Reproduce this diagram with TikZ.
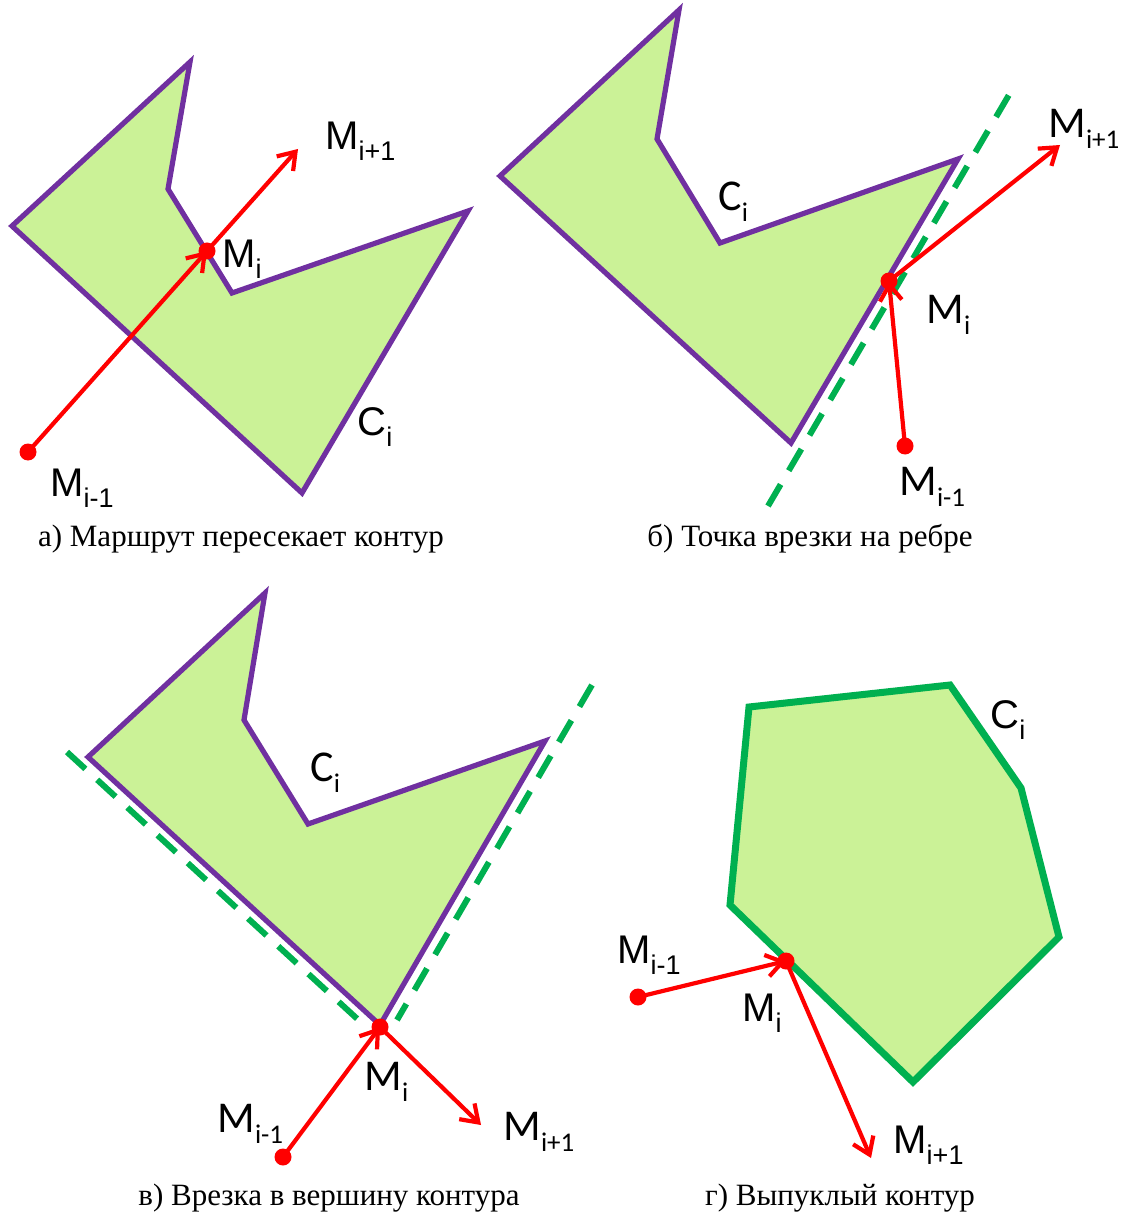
\documentclass[tikz,border=0pt]{standalone}
\usepackage{fontspec}
\newfontfamily\arialf{Liberation Sans}
\newfontfamily\calf{Carlito}
\newfontfamily\capf{Liberation Serif}
\usetikzlibrary{arrows.meta}
\definecolor{contour}{HTML}{7030A0}
\definecolor{fillgreen}{HTML}{CBF297}
\definecolor{tangent}{HTML}{00B050}
\definecolor{route}{HTML}{FF0000}
\newcommand{\idx}[1]{\raisebox{-5.5pt}{\fontsize{13.5}{14}\selectfont #1}}

\begin{document}
\begin{tikzpicture}[x=0.5pt, y=-0.5pt, every node/.style={inner sep=0pt}]
  \tikzset{poly/.style={draw=contour, fill=fillgreen, line width=2.6pt},
           tang/.style={draw=tangent, line width=3pt, dash pattern=on 12.5pt off 8pt},
           rt/.style={draw=route, line width=2.1pt, -{Straight Barb[length=8pt, width=11pt]}},
           pt/.style={circle, fill=route, minimum size=8.5pt},
           lbl/.style={anchor=base west, font=\calf\fontsize{22}{22}\selectfont},
           lbla/.style={anchor=base west, font=\arialf\fontsize{20}{20}\selectfont},
           capt/.style={anchor=base, font=\capf\fontsize{15.5}{18}\selectfont}}
  \useasboundingbox (0,0) rectangle (1132,1213);

  % a) route crosses the contour
  \coordinate (a1) at (12,226);  \coordinate (a2) at (190,62);
  \coordinate (a3) at (168,189); \coordinate (a4) at (232,293);
  \coordinate (a5) at (468,211); \coordinate (a6) at (302,493);
  \draw[poly] (a1) -- (a2) -- (a3) -- (a4) -- (a5) -- (a6) -- cycle;
  \coordinate (aPrev) at (28,452); \coordinate (aCur) at (207,251);
  \coordinate (aNext) at (298,149);
  \draw[rt] (aPrev) -- (aCur);
  \draw[rt] (aCur) -- (aNext);
  \node[pt] (aPrevDot) at (aPrev) {};
  \node[pt] (aCurDot) at (aCur) {};
  \node[lbla] (aLNext) at (325,150) {M\idx{i+1}};
  \node[lbla] (aLCur) at (222,268) {M\idx{i}};
  \node[lbla] (aLPrev) at (50,496) {M\idx{i-1}};
  \node[lbla] (aLC) at (357,436) {C\idx{i}};
  \node[capt] (aCap) at (241,546) {а) Маршрут пересекает контур};

  % b) entry point on an edge
  \coordinate (b1) at (500,176); \coordinate (b2) at (679,10);
  \coordinate (b3) at (657,139); \coordinate (b4) at (720,243);
  \coordinate (b5) at (958,159); \coordinate (b6) at (791,443);
  \draw[poly] (b1) -- (b2) -- (b3) -- (b4) -- (b5) -- (b6) -- cycle;
  \coordinate (bT1) at (768,506); \coordinate (bT2) at (1013,88);
  \draw[tang] (bT1) -- (bT2);
  \coordinate (bPrev) at (905,446); \coordinate (bCur) at (889,281);
  \coordinate (bNext) at (1060,145);
  \draw[rt] (bPrev) -- (bCur);
  \draw[rt] (bCur) -- (bNext);
  \node[pt] (bPrevDot) at (bPrev) {};
  \node[pt] (bCurDot) at (bCur) {};
  \node[lbl] (bLNext) at (1048,138) {M\idx{i+1}};
  \node[lbl] (bLCur) at (926,324) {M\idx{i}};
  \node[lbl] (bLPrev) at (899,495) {M\idx{i-1}};
  \node[lbl] (bLC) at (718,211) {C\idx{i}};
  \node[capt] (bCap) at (810,546) {б) Точка врезки на ребре};

  % c) entry at a vertex
  \coordinate (c1) at (88,757);   \coordinate (c2) at (265,593);
  \coordinate (c3) at (244,720);  \coordinate (c4) at (308,824);
  \coordinate (c5) at (545,741);  \coordinate (c6) at (380,1025);
  \draw[poly] (c1) -- (c2) -- (c3) -- (c4) -- (c5) -- (c6) -- cycle;
  \coordinate (cT1) at (67,752);  \coordinate (cT2) at (365,1026);
  \coordinate (cT3) at (592,685); \coordinate (cT4) at (397,1020);
  \draw[tang] (cT1) -- (cT2);
  \draw[tang] (cT3) -- (cT4);
  \coordinate (cPrev) at (283,1157); \coordinate (cCur) at (380,1027);
  \coordinate (cNext) at (481,1125);
  \draw[rt] (cPrev) -- (cCur);
  \draw[rt] (cCur) -- (cNext);
  \node[pt] (cPrevDot) at (cPrev) {};
  \node[pt] (cCurDot) at (cCur) {};
  \node[lbl] (cLNext) at (503,1140) {M\idx{i+1}};
  \node[lbl] (cLCur) at (364,1090) {M\idx{i}};
  \node[lbl] (cLPrev) at (217,1132) {M\idx{i-1}};
  \node[lbl] (cLC) at (310,781) {C\idx{i}};
  \node[capt] (cCap) at (329,1205) {в) Врезка в вершину контура};

  % d) convex contour
  \coordinate (d1) at (749,707);  \coordinate (d2) at (950,685);
  \coordinate (d3) at (1021,788); \coordinate (d4) at (1059,937);
  \coordinate (d5) at (913,1082); \coordinate (d6) at (730,905);
  \draw[poly, draw=tangent, line width=3.5pt] (d1) -- (d2) -- (d3) -- (d4) -- (d5) -- (d6) -- cycle;
  \coordinate (dPrev) at (638,997); \coordinate (dCur) at (786,961);
  \coordinate (dNext) at (871,1158);
  \draw[rt] (dPrev) -- (dCur);
  \draw[rt] (dCur) -- (dNext);
  \node[pt] (dPrevDot) at (dPrev) {};
  \node[pt] (dCurDot) at (dCur) {};
  \node[lbla] (dLNext) at (893,1153) {M\idx{i+1}};
  \node[lbla] (dLCur) at (742,1021) {M\idx{i}};
  \node[lbla] (dLPrev) at (617,963) {M\idx{i-1}};
  \node[lbla] (dLC) at (990,728) {C\idx{i}};
  \node[capt] (dCap) at (840,1205) {г) Выпуклый контур};
\end{tikzpicture}
\end{document}
